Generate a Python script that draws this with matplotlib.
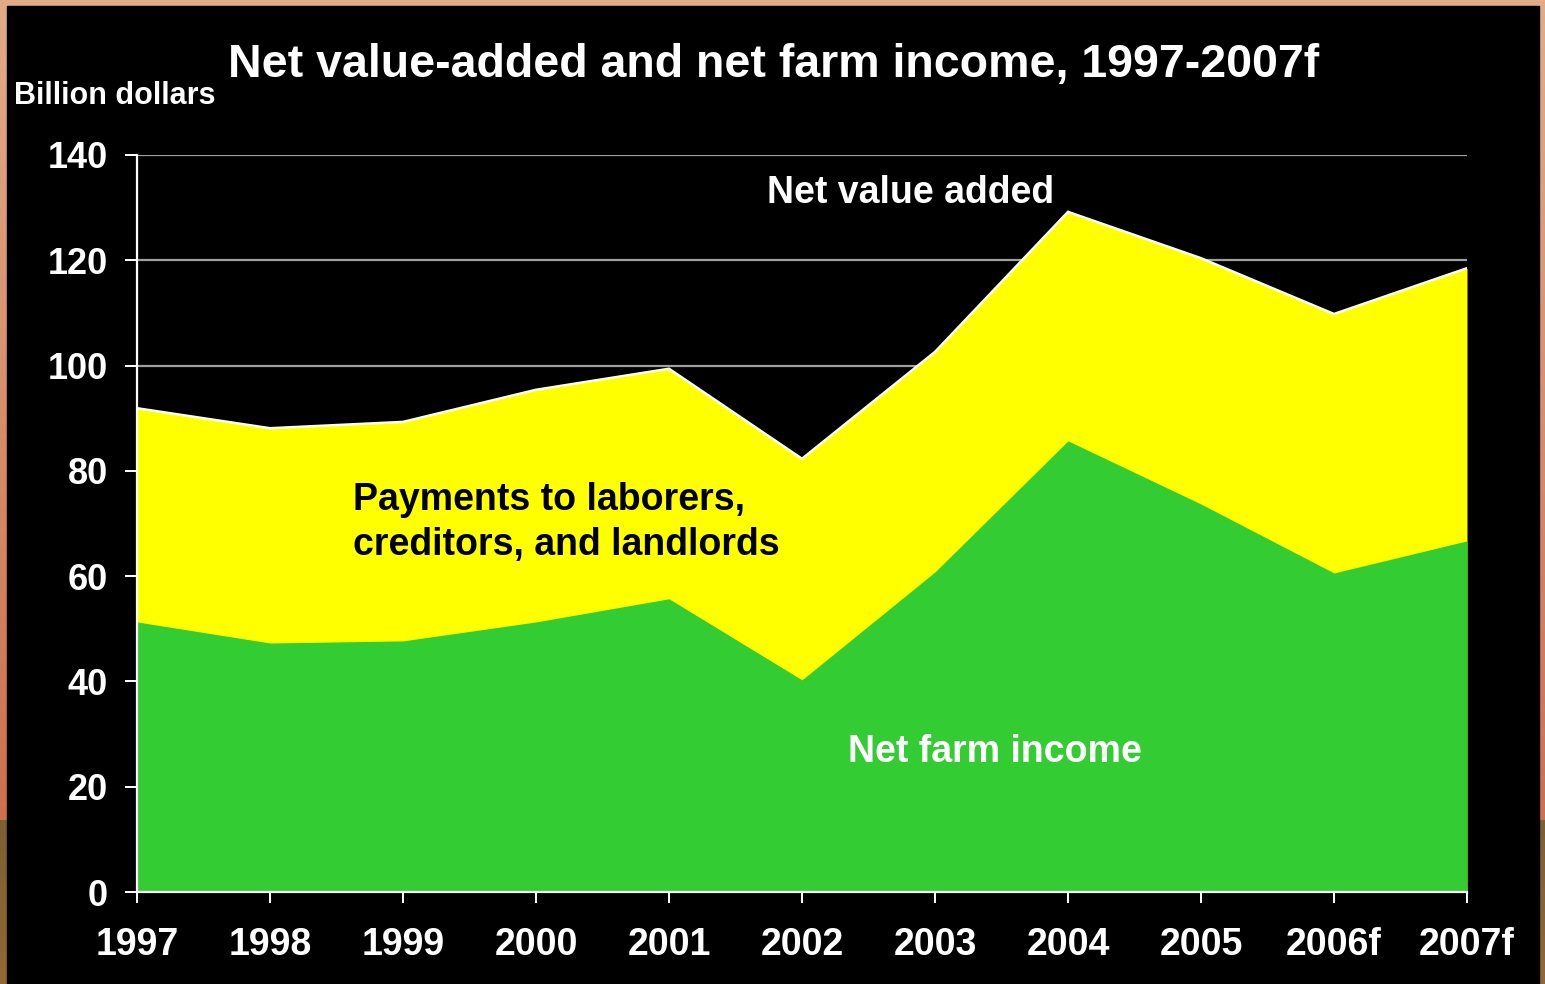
import numpy as np
import matplotlib
matplotlib.use("Agg")
import matplotlib.pyplot as plt
from matplotlib.patches import Rectangle

years = ["1997", "1998", "1999", "2000", "2001", "2002", "2003", "2004", "2005", "2006f", "2007f"]
net_value_added = [91.9, 88.1, 89.3, 95.4, 99.4, 82.3, 102.6, 129.2, 120.4, 109.8, 118.5]
net_farm_income = [51.3, 47.3, 47.7, 51.3, 55.7, 40.3, 60.8, 85.7, 73.7, 60.6, 66.7]
y_ticks = [0, 20, 40, 60, 80, 100, 120, 140]

plt.rcParams['font.family'] = ['Liberation Sans', 'DejaVu Sans']
plt.rcParams['font.weight'] = 'bold'

W, H = 1545, 984
fig = plt.figure(figsize=(W / 100, H / 100), dpi=100)
fig.patch.set_facecolor('black')

# background border gradient
bg = fig.add_axes([0, 0, 1, 1], zorder=-10)
bg.set_axis_off()
rows = np.zeros((H, 1, 3))
for r in range(H):
    if r < 820:
        t = r / 820
        c = np.array([225, 172, 135]) * (1 - t) + np.array([205, 112, 78]) * t
    else:
        t = (r - 820) / (H - 820)
        c = np.array([125, 95, 50]) * (1 - t) + np.array([145, 105, 50]) * t
    rows[r, 0] = c / 255
bg.imshow(rows, aspect='auto', extent=[0, 1, 0, 1], origin='upper')
bg.add_patch(Rectangle((7 / W, 0), (1539 - 7) / W, (H - 6) / H, color='black', zorder=2))
bg.set_xlim(0, 1)
bg.set_ylim(0, 1)

ax = fig.add_axes([137 / W, (H - 892) / H, (1467 - 137) / W, (892 - 155) / H])
ax.set_facecolor('black')
x = np.arange(len(years))

for yv in y_ticks[1:]:
    ax.axhline(yv, color='#a0a0a0', lw=1.6, zorder=0)

ax.fill_between(x, 0, net_value_added, color='#FFFF00', lw=0, zorder=1)
ax.fill_between(x, 0, net_farm_income, color='#33CC33', lw=0, zorder=2)
ax.plot(x, net_value_added, color='white', lw=1.8, zorder=3, solid_joinstyle='miter')

ax.set_xlim(0, len(years) - 1)
ax.set_ylim(0, 140)
ax.set_xticks(x)
ax.set_xticklabels(years)
ax.set_yticks(y_ticks)
for s in ['top', 'right']:
    ax.spines[s].set_visible(False)
for s in ['left', 'bottom']:
    ax.spines[s].set_color('white')
    ax.spines[s].set_linewidth(1.6)
    ax.spines[s].set_zorder(5)
ax.tick_params(axis='y', colors='white', length=9, width=1.4, pad=12, labelsize=26, direction='out')
ax.tick_params(axis='x', colors='white', length=8, width=1.4, pad=17, labelsize=27, direction='out')
for lab in ax.get_xticklabels() + ax.get_yticklabels():
    lab.set_fontweight('bold')

fig.text(0.501, 0.934, "Net value-added and net farm income, 1997-2007f", color='white',
         fontsize=33.5, fontweight='bold', ha='center', va='center')
fig.text(14 / W, 1 - 96 / H, "Billion dollars", color='white', fontsize=22,
         fontweight='bold', ha='left', va='center')

ax.text(5.82, 132.8, "Net value added", color='white', fontsize=27, fontweight='bold',
        ha='center', va='center')
ax.text(1.624, 70.2, "Payments to laborers,\ncreditors, and landlords", color='black',
        fontsize=27, fontweight='bold', ha='left', va='center', linespacing=1.3)
ax.text(6.45, 26.5, "Net farm income", color='white', fontsize=27, fontweight='bold',
        ha='center', va='center')

fig.savefig("out.png", dpi=100, facecolor=fig.get_facecolor())
